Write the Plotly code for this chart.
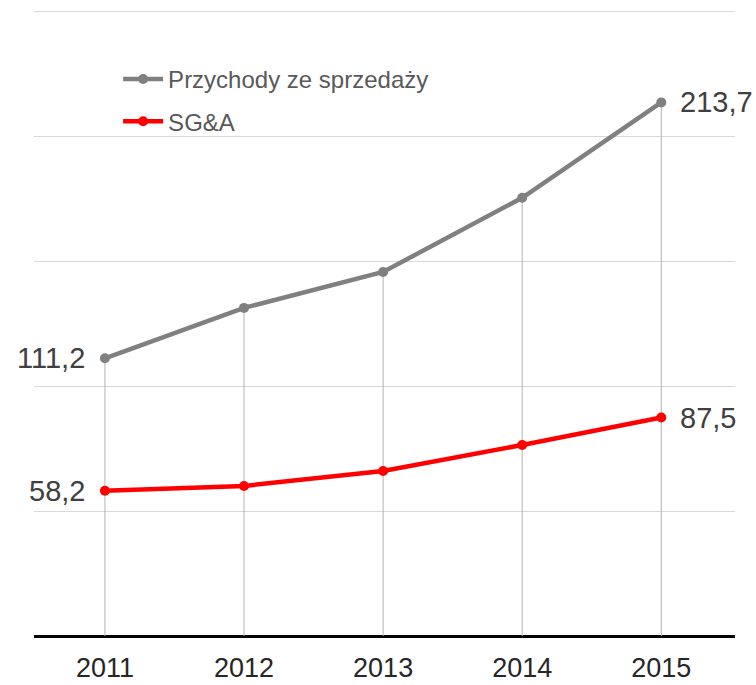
import plotly.graph_objects as go

years = ["2011", "2012", "2013", "2014", "2015"]
revenue = [111.2, 131.4, 145.8, 175.5, 213.7]
sga = [58.2, 60.1, 66.1, 76.5, 87.5]
y_ticks = [0, 50, 100, 150, 200, 250]

xs = list(range(len(years)))

def fmt(v):
    return f"{v:.1f}".replace(".", ",")

fig = go.Figure()

# drop lines from revenue points to baseline
dx, dy = [], []
for x, v in zip(xs, revenue):
    dx += [x, x, None]
    dy += [0, v, None]
fig.add_trace(go.Scatter(x=dx, y=dy, mode="lines", line=dict(color="#b3b3b3", width=1),
                         hoverinfo="skip", showlegend=False))

fig.add_trace(go.Scatter(
    x=xs, y=revenue, mode="lines+markers", name="Przychody ze sprzedaży",
    line=dict(color="#808080", width=4.5), marker=dict(color="#808080", size=10),
    legendgroup="a"))

fig.add_trace(go.Scatter(
    x=xs, y=sga, mode="lines+markers", name="SG&A",
    line=dict(color="#ff0000", width=4.5), marker=dict(color="#ff0000", size=10),
    legendgroup="b"))

label_font = dict(family="Liberation Sans, Arial, sans-serif", size=29, color="#404040")
for series in (revenue, sga):
    fig.add_annotation(x=xs[0], y=series[0], text=fmt(series[0]), showarrow=False,
                       xanchor="right", yanchor="middle", xshift=-18, font=label_font)
    fig.add_annotation(x=xs[-1], y=series[-1], text=fmt(series[-1]), showarrow=False,
                       xanchor="left", yanchor="middle", xshift=17, font=label_font)

fig.update_layout(
    width=756, height=685,
    margin=dict(l=34, r=21, t=8, b=49),
    paper_bgcolor="white", plot_bgcolor="white",
    font=dict(family="Liberation Sans, Arial, sans-serif"),
    xaxis=dict(range=[-0.51, 4.53], tickvals=xs, ticktext=years, showgrid=False,
               zeroline=False, showline=False, ticklabelstandoff=13, automargin=False,
               tickfont=dict(size=27, color="#262626"), ticks="", ticklen=0),
    yaxis=dict(range=[0, 251.5], tickvals=y_ticks, showticklabels=False, showgrid=True,
               gridcolor="#d9d9d9", gridwidth=1, zeroline=True, zerolinecolor="#000000",
               zerolinewidth=3, showline=False, automargin=False),
    legend=dict(x=0.12, y=0.922, xanchor="left", yanchor="top", bgcolor="rgba(0,0,0,0)",
                font=dict(size=24, color="#595959"), tracegroupgap=8, itemwidth=40),
    showlegend=True,
)

fig.write_html("out.html", config={"displayModeBar": False},
               post_script="document.body.style.margin='0';document.body.style.overflow='hidden';")
